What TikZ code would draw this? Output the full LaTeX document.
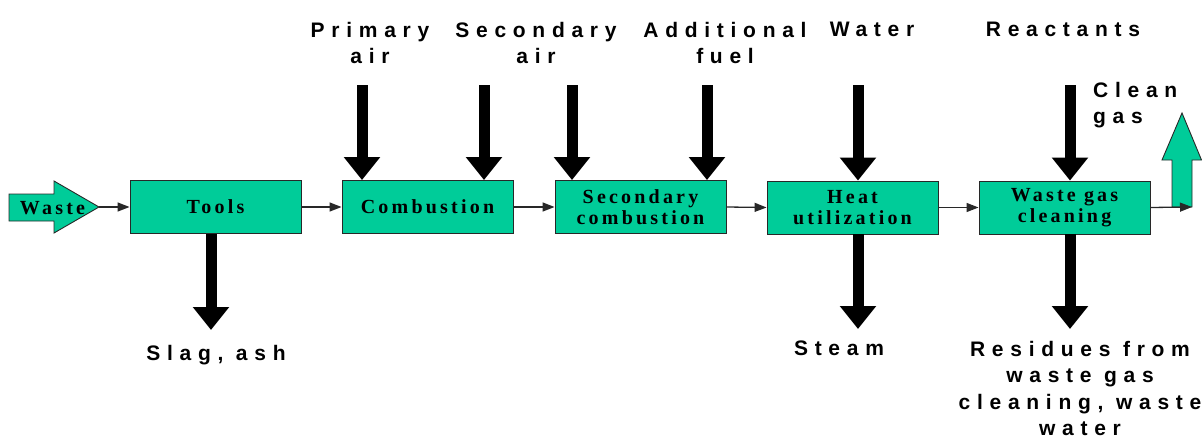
\documentclass[tikz,border=0pt]{standalone}
\usepackage{fontspec}
\usetikzlibrary{arrows.meta}
\newfontfamily\lblfont[LetterSpace=32]{Liberation Sans}
\newfontfamily\boxfont[LetterSpace=16]{Liberation Serif}
\definecolor{procgreen}{RGB}{0,204,153}
\definecolor{edgegray}{RGB}{40,40,40}

\begin{document}
\begin{tikzpicture}[x=1pt,y=-1pt,
  proc/.style={draw=edgegray, line width=0.9pt, fill=procgreen,
    minimum width=171pt, minimum height=53pt, inner sep=0pt, align=center,
    font=\boxfont\bfseries\fontsize{20}{21}\selectfont},
  flow/.style={draw=edgegray, line width=1.3pt, -{Triangle[length=12pt,width=9pt]}},
  feed/.style={line width=11pt, -{Triangle[length=23pt,width=35pt]}},
  lbl/.style={inner sep=0pt, align=center, anchor=north,
    font=\lblfont\bfseries\fontsize{21}{26.5}\selectfont},
  bigarrow/.style={draw=edgegray, line width=0.9pt, fill=procgreen, line join=miter}
]
\useasboundingbox (0,0) rectangle (1202,439);

% incoming waste arrow
\path[bigarrow] (9,194) -- (54,194) -- (54,181) -- (99,207) -- (54,233)
  -- (54,221) -- (9,221) -- cycle;
\node[inner sep=0pt, anchor=base, font=\boxfont\bfseries\fontsize{20}{21}\selectfont]
  (waste) at (52.5,214.5) {Waste};
\coordinate (wastetip) at (99,207);

% process chain
\node[proc] (tools) at (215.5,207) {Tools};
\node[proc] (comb)  at (427.5,207) {Combustion};
\node[proc] (sec)   at (640.5,207) {Secondary\\combustion};
\node[proc] (heat)  at (852.5,207.5) {Heat\\utilization};
\node[proc] (clean) at (1064.5,207.5) {Waste gas\\cleaning};

% outgoing clean gas arrow
\path[bigarrow] (1172,207) -- (1172,160) -- (1162,160) -- (1182,113)
  -- (1201.5,160) -- (1192,160) -- (1192,207) -- cycle;
\coordinate (outtip) at (1192,207);

\draw[flow] (wastetip) -- (tools.west);
\draw[flow] (tools.east) -- (comb.west);
\draw[flow] (comb.east) -- (sec.west);
\draw[flow] (sec.east) -- (heat.west);
\draw[flow] (heat.east) -- (clean.west);
\draw[flow] (clean.east) -- (outtip);

% feed streams from above
\coordinate (f1) at (362,85);
\coordinate (f2) at (484,85);
\coordinate (f3) at (572,85);
\coordinate (f4) at (707,85);
\coordinate (f5) at (858,85);
\coordinate (f6) at (1070,85);
\draw[feed] (f1) -- (f1 |- comb.north);
\draw[feed] (f2) -- (f2 |- comb.north);
\draw[feed] (f3) -- (f3 |- sec.north);
\draw[feed] (f4) -- (f4 |- sec.north);
\draw[feed] (f5) -- (f5 |- heat.north);
\draw[feed] (f6) -- (f6 |- clean.north);

% discharge streams below
\coordinate (d1) at (211,330);
\coordinate (d2) at (858,329);
\coordinate (d3) at (1070,329);
\draw[feed] (d1 |- tools.south) -- (d1);
\draw[feed] (d2 |- heat.south) -- (d2);
\draw[feed] (d3 |- clean.south) -- (d3);

% stream labels
\node[lbl] (lpa) at (370,21.7) {Primary\\air};
\node[lbl] (lsa) at (536,21.7) {Secondary\\air};
\node[lbl] (laf) at (725,21.7) {Additional\\fuel};
\node[lbl] (lw)  at (872,21.7) {Water};
\node[lbl] (lr)  at (1063,21.7) {Reactants};
\node[lbl, anchor=north west, align=left] (lcg) at (1093,82) {Clean\\gas};
\node[lbl] (lsl) at (216,345) {Slag, ash};
\node[lbl] (lst) at (839,341) {Steam};
\node[lbl] (lres) at (1080,341) {Residues from\\waste gas\\cleaning, waste\\water};
\end{tikzpicture}
\end{document}
